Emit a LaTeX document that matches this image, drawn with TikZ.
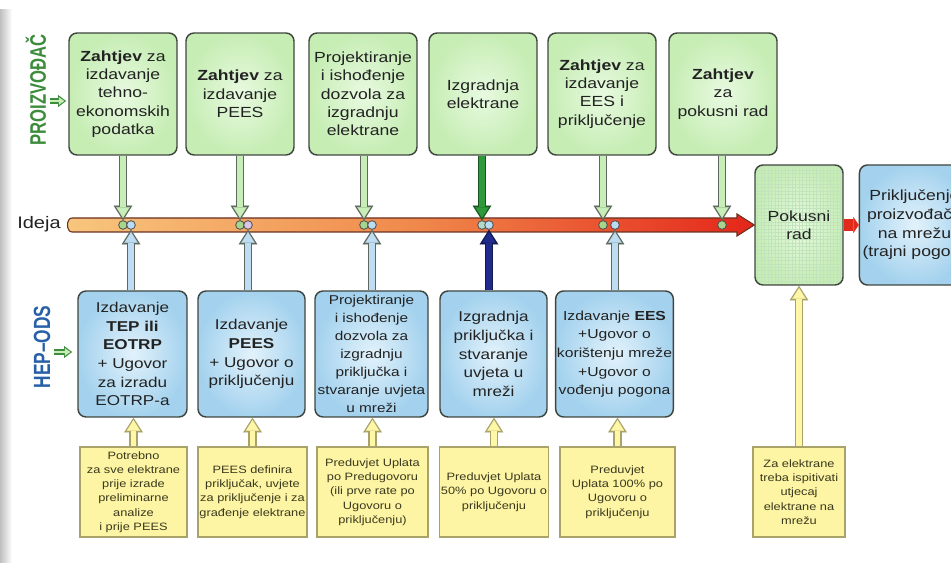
\documentclass[tikz,border=0pt]{standalone}
\usepackage{fontspec}
\setmainfont{Liberation Sans}[FakeStretch=1.2]
\newfontfamily\hochfont{Liberation Sans}
\usepackage{graphicx}
\usepackage{tikz}
\usetikzlibrary{positioning,%
  arrows.meta,%
  calc}

\definecolor{boxrand}{HTML}{3F463F}
\definecolor{gruenhell}{HTML}{E8FAE0}
\definecolor{gruen}{HTML}{C6EDB4}
\definecolor{blauhell}{HTML}{E2F2FB}
\definecolor{blau}{HTML}{A4D2EE}
\definecolor{gelb}{HTML}{FDF4A4}
\definecolor{gelbrand}{HTML}{A9A36A}
\definecolor{notiztext}{HTML}{3A3A1E}
\definecolor{textdunkel}{HTML}{222222}
\definecolor{pfeilgrau}{HTML}{5E685E}
\definecolor{pfeilgruen}{HTML}{C8EEB8}
\definecolor{pfeilblau}{HTML}{BEDDF2}
\definecolor{pfeilgelb}{HTML}{FFF7A8}
\definecolor{gruendunkel}{HTML}{2F9A3A}
\definecolor{blaudunkel}{HTML}{1F2C8C}
\definecolor{achselinks}{HTML}{F8C67E}
\definecolor{achsemitte}{HTML}{F08A4C}
\definecolor{achserechts}{HTML}{E4261A}
\definecolor{achserand}{HTML}{6A3020}
\definecolor{rot}{HTML}{E22A1C}
\definecolor{punktgruen}{HTML}{A6D68E}
\definecolor{punktblau}{HTML}{BADCF2}
\definecolor{punktlila}{HTML}{D9C6E6}
\definecolor{pokusgruen}{HTML}{D8F3D2}
\definecolor{gitter}{HTML}{C2E4BC}
\definecolor{schriftgruen}{HTML}{3C8C3C}
\definecolor{schriftblau}{HTML}{2860A8}

\begin{document}
\begin{tikzpicture}
                    [
                        x=0.75pt, y=-0.75pt,
                        every node/.style={align=center, inner sep=1pt},
                        oben/.style={draw=boxrand, line width=1.1pt, rounded corners=6pt,
                            inner color=gruenhell, outer color=gruen,
                            minimum width=81pt, minimum height=91.5pt, text=textdunkel,
                            font=\fontsize{11}{13.7}\selectfont},
                        unten/.style={oben, inner color=blauhell, outer color=blau,
                            minimum height=94.5pt, font=\fontsize{10.7}{14}\selectfont},
                        notiz/.style={draw=gelbrand, line width=1pt, fill=gelb,
                            minimum height=67.5pt, text=notiztext,
                            font=\fontsize{8}{10.7}\selectfont},
                        punkt/.style={circle, draw=black!70, line width=0.6pt, fill=#1,
                            inner sep=0pt, minimum size=6.5pt},
                        pfeil/.style 2 args={draw=#2, line width=6.5pt,
                            -{Triangle[length=11pt, width=14pt, line width=0.1pt]},
                            postaction={draw=#1, line width=3.9pt, shorten >=1.8pt,
                                -{Triangle[length=8pt, width=10pt, line width=0.1pt]}}},
                        kpfeil/.style={draw=schriftgruen, line width=4pt,
                            -{Triangle[length=6pt, width=9pt, line width=0.1pt]},
                            postaction={draw=pfeilgruen, line width=2pt, shorten >=1.3pt,
                                -{Triangle[length=4pt, width=5.5pt, line width=0.1pt]}}},
                        rotlink/.style={draw=rot, line width=9pt,
                            -{Triangle[length=4pt, width=12pt, line width=0.1pt]}}
                    ]

                    % Rahmen
                    \useasboundingbox (0,0) rectangle (951,563);
                    \clip (0,0) rectangle (951,563);
                    \shade[left color=black!25, right color=white] (0,10) rectangle (12,563);

                    % Proizvodjac
                    \node[oben] (z1) at (123,94) {\textbf{Zahtjev} za\\izdavanje\\tehno-\\ekonomskih\\podatka};
                    \node[oben] (z2) at (240,94) {\textbf{Zahtjev} za\\izdavanje\\PEES};
                    \node[oben] (z3) at (363,94) {Projektiranje\\i ishođenje\\dozvola za\\izgradnju\\elektrane};
                    \node[oben] (z4) at (483,94) {Izgradnja\\elektrane};
                    \node[oben] (z5) at (602,94) {\textbf{Zahtjev} za\\izdavanje\\EES i\\priključenje};
                    \node[oben] (z6) at (723,94) {\textbf{Zahtjev}\\za\\pokusni rad};

                    % HEP-ODS
                    \node[unten, minimum width=81.75pt] (u1) at (132.5,354) {Izdavanje\\\textbf{TEP ili}\\\textbf{EOTRP}\\+ Ugovor\\za izradu\\EOTRP-a};
                    \node[unten, minimum width=80.25pt] (u2) at (251.5,354) {Izdavanje\\\textbf{PEES}\\+ Ugovor o\\priključenju};
                    \node[unten, minimum width=84.75pt, font=\fontsize{9.6}{13.4}\selectfont] (u3) at (371.5,354) {Projektiranje\\i ishođenje\\dozvola za\\izgradnju\\priključka i\\stvaranje uvjeta\\u mreži};
                    \node[unten, minimum width=80.25pt] (u4) at (493.5,354) {Izgradnja\\priključka i\\stvaranje\\uvjeta u\\mreži};
                    \node[unten, minimum width=86.25pt, font=\fontsize{9.8}{14}\selectfont] (u5) at (614.5,354) {Izdavanje \textbf{EES}\\+Ugovor o\\korištenju mreže\\+Ugovor o\\vođenju pogona};

                    % Pokusni rad
                    \node[oben, draw=boxrand, fill=pokusgruen, minimum width=66pt, minimum height=90pt,
                        path picture={\draw[gitter, line width=0.15pt] (path picture bounding box.south west) grid[step=2.6pt] (path picture bounding box.north east);}]
                        (pokus) at (799,225) {Pokusni\\rad};
                    \node[unten, minimum width=82.5pt, minimum height=90pt, font=\fontsize{11}{14}\selectfont,
                        right=11.25pt of pokus] (prik) {Priključenje\\proizvođača\\na mrežu\\(trajni pogon)};

                    % Notizen
                    \node[notiz, minimum width=80.25pt] (n1) at (133.5,492) {Potrebno\\za sve elektrane\\prije izrade\\preliminarne\\analize\\i prije PEES};
                    \node[notiz, minimum width=81.75pt] (n2) at (252.5,492) {PEES definira\\priključak, uvjete\\za priključenje i za\\građenje elektrane};
                    \node[notiz, minimum width=83.25pt] (n3) at (372.5,492) {Preduvjet Uplata\\po Predugovoru\\(ili prve rate po\\Ugovoru o\\priključenju)};
                    \node[notiz, minimum width=81pt] (n4) at (494,492) {Preduvjet Uplata\\50\% po Ugovoru o\\priključenju};
                    \node[notiz, minimum width=86.25pt] (n5) at (617.5,492) {Preduvjet\\Uplata 100\% po\\Ugovoru o\\priključenju};
                    \node[notiz, minimum width=69pt] (n6) at (799,492) {Za elektrane\\treba ispitivati\\utjecaj\\elektrane na\\mrežu};

                    % Beschriftung
                    \node[rotate=90, text=schriftgruen, font=\hochfont\bfseries\fontsize{12.5}{14}\selectfont] (proiz) at (36,90) {\scalebox{1}[1.35]{PROIZVOĐAČ}};
                    \node[rotate=90, text=schriftblau, font=\hochfont\bfseries\fontsize{13}{15}\selectfont] (hep) at (42,347) {\scalebox{1}[1.35]{HEP–ODS}};
                    \node[text=textdunkel, font=\fontsize{12.5}{14}\selectfont] (ideja) at (39,224) {Ideja};
                    \coordinate (pa1) at (50,101);
                    \coordinate (pa2) at (66,101);
                    \coordinate (ha1) at (54,352);
                    \coordinate (ha2) at (72,352);
                    \draw[kpfeil] (pa1) -- (pa2);
                    \draw[kpfeil] (ha1) -- (ha2);

                    % Zeitachse
                    \shadedraw[left color=achselinks, right color=achserechts, middle color=achsemitte,
                        draw=achserand, line width=0.8pt]
                        (72,218) -- (737,218) -- (737,214) -- (pokus.west) -- (737,236) -- (737,232) -- (72,232)
                        .. controls (66,232) and (66,218) .. (72,218) -- cycle;
                    \draw[rotlink] (pokus.east) -- (prik.west);

                    % Punkte
                    \node[punkt=punktgruen] (g1) at (123,225) {};
                    \node[punkt=punktblau] (c1) at (131,225) {};
                    \node[punkt=punktgruen] (g2) at (240,225) {};
                    \node[punkt=punktlila] (c2) at (248,225) {};
                    \node[punkt=punktgruen] (g3) at (364,225) {};
                    \node[punkt=punktblau] (c3) at (372,225) {};
                    \node[punkt=punktblau!60!punktgruen] (g4) at (482,225) {};
                    \node[punkt=punktblau] (c4) at (489,225) {};
                    \node[punkt=punktgruen] (g5) at (603,225) {};
                    \node[punkt=punktblau] (c5) at (615,225) {};
                    \node[punkt=punktgruen] (g6) at (722,225) {};

                    % Pfeile oben
                    \foreach \i in {1,2,3,5,6}
                        \draw[pfeil={pfeilgruen}{pfeilgrau}] (z\i.south -| g\i) -- (g\i.north);
                    \draw[pfeil={gruendunkel}{gruendunkel!55!black}] (z4.south -| g4) -- (g4.north);

                    % Pfeile unten
                    \foreach \i in {1,2,3,5}
                        \draw[pfeil={pfeilblau}{pfeilgrau}] (u\i.north -| c\i) -- (c\i.south);
                    \draw[pfeil={blaudunkel}{blaudunkel!55!black}] (u4.north -| c4) -- (c4.south);

                    % Pfeile Notizen
                    \foreach \i in {1,...,5}
                        \draw[pfeil={pfeilgelb}{gelbrand}] (n\i.north) -- (n\i.north |- u\i.south);
                    \draw[pfeil={pfeilgelb}{gelbrand}] (n6.north) -- (n6.north |- pokus.south);
                \end{tikzpicture}
\end{document}
